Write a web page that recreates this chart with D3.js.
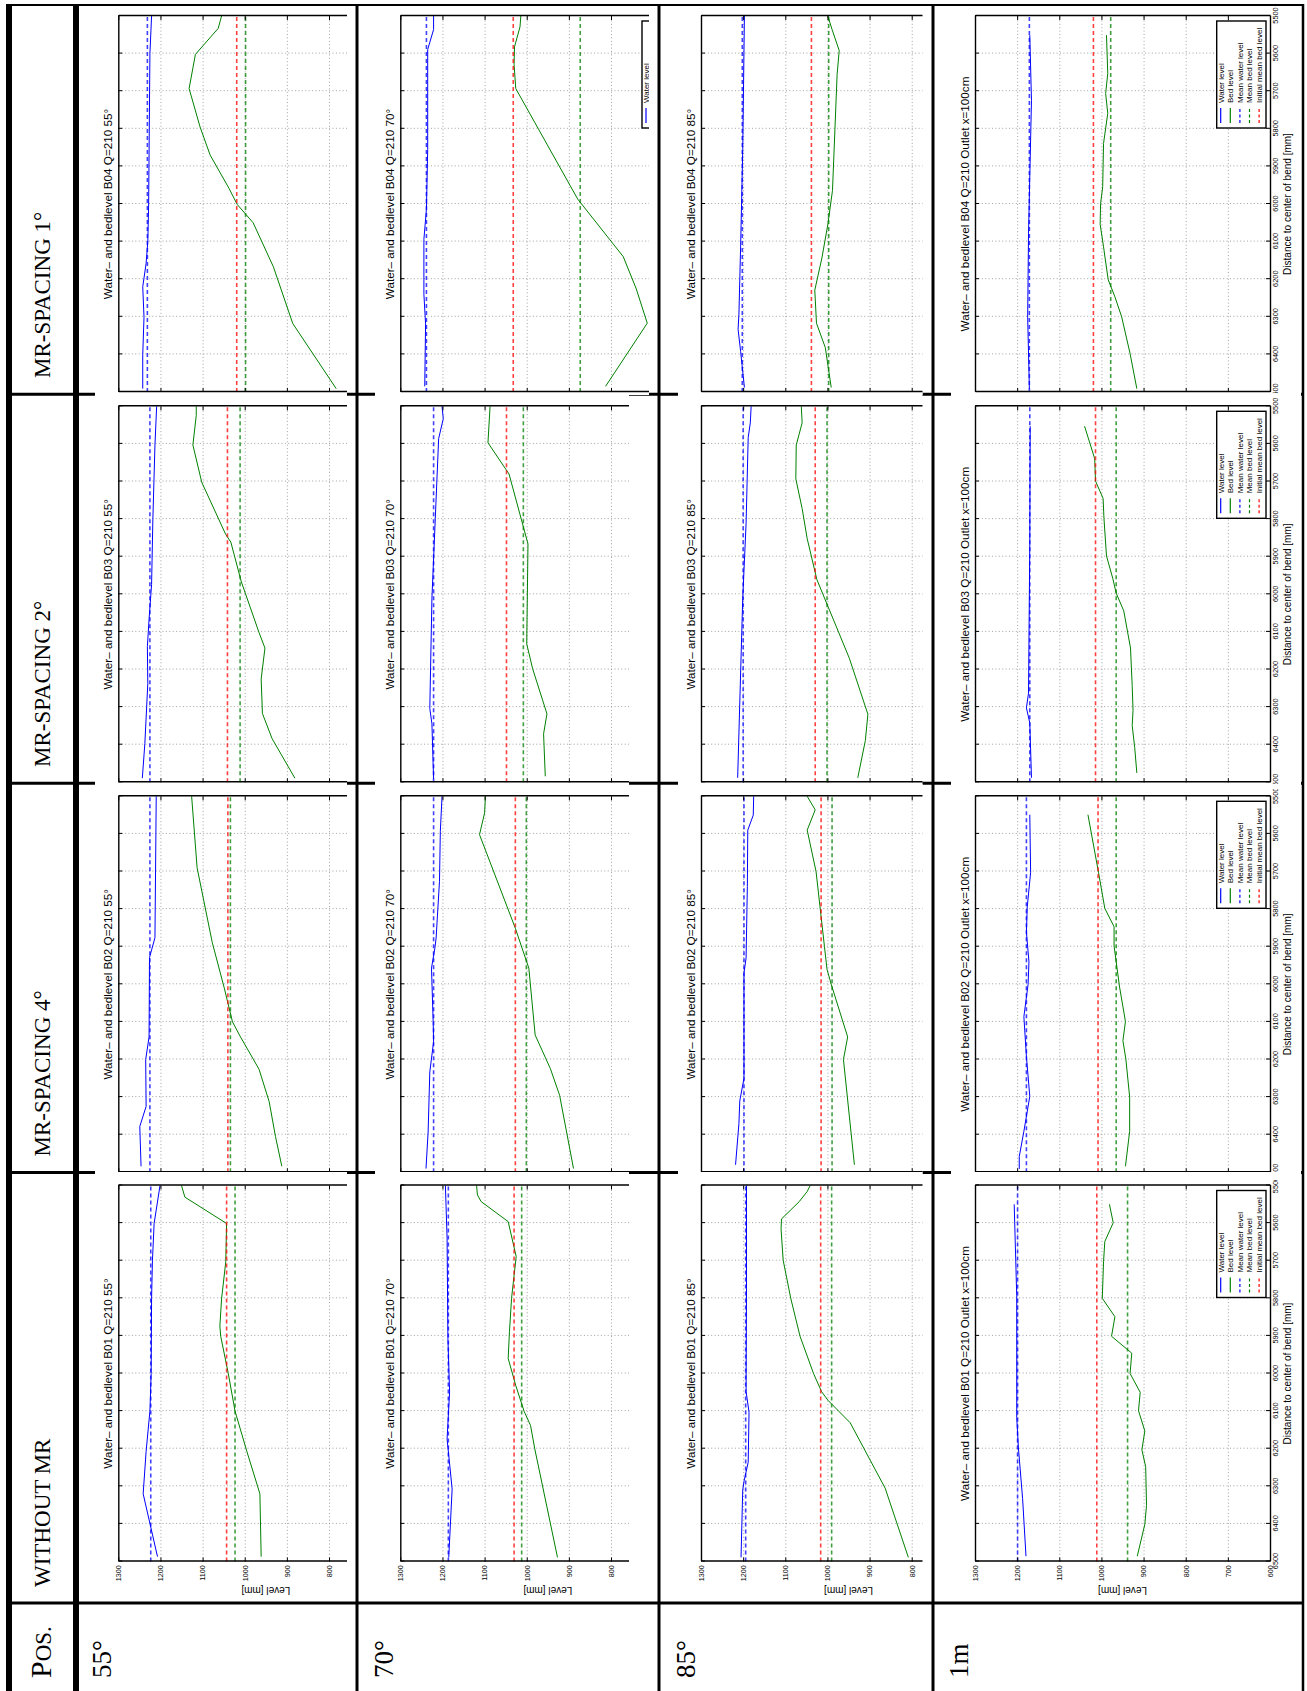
<!DOCTYPE html>
<html>
<head>
<meta charset="utf-8">
<script src="https://cdn.jsdelivr.net/npm/d3@7"></script>
<style>
  html, body { margin: 0; padding: 0; background: #fff; }
  svg { display: block; }
</style>
</head>
<body>
<script>
// ---------------- table labels ----------------
const setupLabels = ["WITHOUT MR", "MR-SPACING 4°", "MR-SPACING 2°", "MR-SPACING 1°"];
const setupCodes = ["B01", "B02", "B03", "B04"];
const positionLabels = ["55°", "70°", "85°", "1m"];
const positionTitles = ["55°", "70°", "85°", "Outlet x=100cm"];
const levelTicks = [1300, 1200, 1100, 1000, 900, 800, 700, 600];
const distanceTicks = [5500, 5600, 5700, 5800, 5900, 6000, 6100, 6200, 6300, 6400, 6500];
const legendLabels = ["Water level", "Bed level", "Mean water level", "Mean bed level", "Initial mean bed level"];

// ---------------- profiles: [distance to bend centre (mm), level (mm)] ----------------
// means: [mean water level, mean bed level, initial mean bed level]

// B01 - without MR
const waterB01_55 = [[5500,1201],[5601,1215],[5700,1219],[5800,1221],[6000,1222],[6100,1225],[6207,1234],[6320,1241],[6487,1207]];
const bedB01_55 = [[5500,1150],[5531,1142],[5601,1043],[5703,1045],[5802,1055],[5874,1059],[5901,1057],[6000,1039],[6100,1023],[6207,995],[6320,964],[6487,961]];
const meanB01_55 = [1223, 1023, 1043];
const waterB01_70 = [[5500,1193],[5640,1189],[5907,1187],[6049,1183],[6174,1189],[6307,1177],[6489,1185]];
const bedB01_70 = [[5500,1119],[5525,1117],[5543,1108],[5596,1044],[5689,1025],[5800,1036],[5889,1041],[5960,1044],[6032,1026],[6101,1006],[6138,991],[6200,981],[6489,927]];
const meanB01_70 = [1186, 1012, 1030];
const waterB01_85 = [[5500,1192],[5773,1192],[6048,1193],[6103,1186],[6236,1188],[6287,1198],[6310,1201],[6489,1205]];
const bedB01_85 = [[5500,1041],[5516,1048],[5543,1067],[5589,1109],[5616,1110],[5699,1105],[5800,1087],[5901,1065],[6000,1033],[6048,1014],[6071,999],[6131,946],[6305,863],[6489,808]];
const meanB01_85 = [1194, 990, 1016];
const waterB01_1m = [[5550,1207],[5793,1201],[6117,1201],[6198,1197],[6333,1187],[6486,1179]];
const bedB01_1m = [[5550,981],[5599,972],[5649,992],[5703,995],[5800,998],[5849,968],[5901,976],[5946,928],[6000,932],[6050,908],[6099,912],[6153,897],[6203,904],[6248,895],[6351,893],[6401,897],[6486,915]];
const meanB01_1m = [1199, 938, 1011];

// B02 - MR spacing 4°
const waterB02_55 = [[5500,1210],[5876,1213],[5929,1226],[6140,1227],[6200,1235],[6325,1234],[6378,1249],[6484,1246]];
const bedB02_55 = [[5500,1126],[5690,1113],[5889,1077],[6008,1049],[6100,1029],[6140,1010],[6226,966],[6312,942],[6405,927],[6484,912]];
const meanB02_55 = [1225, 1034, 1040];
const waterB02_70 = [[5500,1201],[5593,1205],[5726,1207],[5877,1215],[5904,1218],[5957,1226],[6099,1222],[6153,1221],[6233,1230],[6393,1234],[6490,1239]];
const bedB02_70 = [[5500,1098],[5544,1100],[5602,1112],[5851,1027],[5957,995],[6135,980],[6224,944],[6295,922],[6490,889]];
const meanB02_70 = [1221, 1001, 1027];
const waterB02_85 = [[5500,1175],[5550,1176],[5590,1189],[5740,1190],[5930,1193],[5970,1198],[6250,1198],[6310,1208],[6370,1210],[6480,1218]];
const bedB02_85 = [[5500,1048],[5536,1029],[5590,1048],[5700,1027],[5820,1015],[5900,1007],[5960,1001],[6000,991],[6140,952],[6200,962],[6480,936]];
const meanB02_85 = [1198, 989, 1015];
const waterB02_1m = [[5549,1170],[5702,1168],[5794,1176],[5861,1178],[5940,1172],[6000,1174],[6086,1184],[6192,1178],[6298,1170],[6391,1184],[6458,1195],[6491,1195]];
const bedB02_1m = [[5549,1032],[5702,1007],[5798,992],[5847,970],[5898,970],[6007,957],[6099,943],[6150,949],[6199,942],[6300,933],[6391,933],[6484,943]];
const meanB02_1m = [1178, 965, 1008];

// B03 - MR spacing 2°
const waterB03_55 = [[5500,1209],[5603,1213],[5802,1218],[5974,1221],[6066,1227],[6139,1231],[6238,1230],[6397,1237],[6489,1243]];
const bedB03_55 = [[5500,1115],[5524,1115],[5603,1123],[5702,1102],[5841,1045],[5861,1033],[5967,1008],[6102,966],[6143,952],[6225,961],[6317,958],[6384,935],[6489,881]];
const meanB03_55 = [1225, 1011, 1041];
const waterB03_70 = [[5500,1201],[5533,1198],[5586,1209],[5799,1217],[6012,1225],[6304,1230],[6344,1225],[6491,1221]];
const bedB03_70 = [[5500,1087],[5597,1092],[5680,1042],[5866,997],[6132,1000],[6198,986],[6318,952],[6371,960],[6484,956]];
const meanB03_70 = [1221, 1008, 1048];
const waterB03_85 = [[5500,1181],[5544,1183],[5583,1188],[5812,1193],[6011,1201],[6488,1213]];
const bedB03_85 = [[5500,1062],[5544,1060],[5603,1074],[5693,1075],[5772,1060],[5852,1048],[5961,1025],[6170,948],[6319,904],[6389,910],[6488,928]];
const meanB03_85 = [1200, 1001, 1029];
const waterB03_1m = [[5553,1169],[5865,1170],[6263,1173],[6302,1178],[6342,1170],[6488,1166]];
const bedB03_1m = [[5553,1040],[5639,1016],[5699,1014],[5745,996],[5798,994],[5898,988],[5958,973],[5997,965],[6044,947],[6143,931],[6243,927],[6309,925],[6349,927],[6408,921],[6475,916]];
const meanB03_1m = [1170, 965, 1014];

// B04 - MR spacing 1°
const waterB04_55 = [[5500,1221],[5600,1225],[6000,1228],[6100,1230],[6158,1234],[6220,1242],[6301,1239],[6401,1242],[6491,1242]];
const bedB04_55 = [[5500,1055],[5533,1063],[5602,1117],[5693,1132],[5795,1106],[5870,1082],[5959,1037],[6001,1018],[6050,980],[6167,932],[6318,886],[6491,783]];
const meanB04_55 = [1231, 998, 1019];
const waterB04_70 = [[5500,1221],[5536,1221],[5589,1235],[5855,1235],[6014,1238],[6094,1244],[6240,1244],[6319,1240],[6485,1242]];
const bedB04_70 = [[5500,1014],[5529,1016],[5582,1029],[5629,1030],[5693,1026],[5987,879],[6140,771],[6226,740],[6317,714],[6485,813]];
const meanB04_70 = [1238, 873, 1032];
const waterB04_85 = [[5500,1197],[5855,1201],[6114,1206],[6293,1210],[6333,1212],[6392,1206],[6488,1197]];
const bedB04_85 = [[5500,999],[5536,989],[5592,972],[5655,977],[5964,988],[6054,999],[6143,1013],[6229,1030],[6317,1026],[6382,1005],[6488,991]];
const meanB04_85 = [1202, 997, 1038];
const waterB04_1m = [[5551,1170],[5724,1166],[6079,1173],[6301,1175],[6491,1171]];
const bedB04_1m = [[5551,988],[5653,985],[5706,990],[5759,985],[5839,995],[5954,997],[5999,1002],[6054,1003],[6114,995],[6201,984],[6247,968],[6300,952],[6398,932],[6491,916]];
const meanB04_1m = [1171, 978, 1019];

// lookup [setup][position] -> series
const waterTable = [
  [waterB01_55, waterB01_70, waterB01_85, waterB01_1m],
  [waterB02_55, waterB02_70, waterB02_85, waterB02_1m],
  [waterB03_55, waterB03_70, waterB03_85, waterB03_1m],
  [waterB04_55, waterB04_70, waterB04_85, waterB04_1m]
];
const bedTable = [
  [bedB01_55, bedB01_70, bedB01_85, bedB01_1m],
  [bedB02_55, bedB02_70, bedB02_85, bedB02_1m],
  [bedB03_55, bedB03_70, bedB03_85, bedB03_1m],
  [bedB04_55, bedB04_70, bedB04_85, bedB04_1m]
];
const meanTable = [
  [meanB01_55, meanB01_70, meanB01_85, meanB01_1m],
  [meanB02_55, meanB02_70, meanB02_85, meanB02_1m],
  [meanB03_55, meanB03_70, meanB03_85, meanB03_1m],
  [meanB04_55, meanB04_70, meanB04_85, meanB04_1m]
];

// ---------------- page layout ----------------
// The table is laid out in a landscape frame (u along the long side,
// v along the short side) and turned a quarter turn onto the portrait page.
const W = 1307, H = 1691;
const PW = 376;   // plot extent along the distance axis
const PH = 295;   // plot extent along the level axis (1300 .. 600 mm)

const setupPlotU = [129.5, 518.7, 908.7, 1299];                 // left edge of each plot (6500 mm)
const setupCover = [[93, 519], [516.5, 907], [906, 1298], [1296, 1684]];
const setupClip  = [[93, 511], [518.5, 902], [907, 1294], [1298, 1684]];
const positionPlotV = [118.3, 400.3, 701, 975];                 // level 1300 edge of each plot
const positionClip = [[97, 347], [377, 629], [680, 922.5], [953, 1301]];

const serif = "'Liberation Serif', 'Times New Roman', serif";
const sans = "'Liberation Sans', Arial, Helvetica, sans-serif";
const plain = d3.format("d");

const svg = d3.select("body").append("svg")
  .attr("width", W).attr("height", H)
  .attr("viewBox", `0 0 ${W} ${H}`);
svg.append("rect").attr("width", W).attr("height", H).attr("fill", "#fff");
const defs = svg.append("defs");
const page = svg.append("g").attr("transform", `translate(0,${H}) rotate(-90)`);

// ---------------- table rules ----------------
const rules = page.append("g").attr("stroke", "#000").attr("fill", "none");
[[9, 6], [76, 6], [357, 3], [659, 3], [933, 3], [1303, 2.5]].forEach(([v, w]) => {
  rules.append("line").attr("x1", 0).attr("x2", 1687).attr("y1", v).attr("y2", v).attr("stroke-width", w);
});
rules.append("line").attr("x1", 1686).attr("x2", 1686).attr("y1", 6).attr("y2", 1304).attr("stroke-width", 2);
[1296.7, 907.8, 518.5, 88].forEach(u => {
  rules.append("line").attr("x1", u).attr("x2", u).attr("y1", 9).attr("y2", 1303).attr("stroke-width", 3);
});

// ---------------- table headings ----------------
const heads = page.append("g").attr("font-family", serif).attr("fill", "#000");
const posHead = heads.append("text").attr("x", 13).attr("y", 51);
posHead.append("tspan").attr("font-size", 30).text("P");
posHead.append("tspan").attr("font-size", 23).text("OS.");
const setupHeadU = [104, 534.5, 924, 1313];
setupLabels.forEach((lab, i) => {
  heads.append("text").attr("x", setupHeadU[i]).attr("y", 50).attr("font-size", 23).text(lab);
});
const rowLabelV = [111, 393, 695, 968];
positionLabels.forEach((lab, i) => {
  heads.append("text").attr("x", 13).attr("y", rowLabelV[i]).attr("font-size", 27).text(lab);
});

// ---------------- charts ----------------
const colors = { water: "#0000ff", bed: "#008000", init: "#ff0000" };
const meanColors = [colors.water, colors.bed, colors.init];

function styleAxis(sel) {
  sel.attr("font-family", sans).attr("font-size", null);
  sel.select(".domain").attr("stroke", "#000").attr("stroke-width", 1.4);
  sel.selectAll(".tick line").attr("stroke", "#000").attr("stroke-width", 1);
  sel.selectAll(".tick text").attr("fill", "#000");
}

function drawChart(s, p) {
  const u0 = setupPlotU[s], v0 = positionPlotV[p];
  const cover = setupCover[s], clipU = setupClip[s];
  let [cv0, cv1] = positionClip[p];
  if (s === 3 && p === 1) cv1 = 649;

  const x = d3.scaleLinear().domain([6500, 5500]).range([0, PW]);
  const y = d3.scaleLinear().domain([1300, 600]).range([0, PH]);

  // white sheet under the figure
  page.append("rect").attr("x", cover[0]).attr("y", cv0 - 2)
    .attr("width", cover[1] - cover[0]).attr("height", cv1 - cv0 + 2).attr("fill", "#fff");

  const id = `fig-${s}-${p}`;
  defs.append("clipPath").attr("id", id).append("rect")
    .attr("x", clipU[0]).attr("y", cv0).attr("width", clipU[1] - clipU[0]).attr("height", cv1 - cv0);
  const outer = page.append("g").attr("clip-path", `url(#${id})`);
  const g = outer.append("g").attr("transform", `translate(${u0},${v0})`);

  // dotted grid
  g.append("g")
    .call(d3.axisLeft(y).tickValues(levelTicks.slice(1, -1)).tickSize(-PW).tickFormat(""))
    .call(a => a.select(".domain").remove())
    .selectAll("line").attr("stroke", "#8a8a8a").attr("stroke-width", 0.8).attr("stroke-dasharray", "1,2.4");
  g.append("g")
    .call(d3.axisTop(x).tickValues(distanceTicks.slice(1, -1)).tickSize(-PH).tickFormat(""))
    .call(a => a.select(".domain").remove())
    .selectAll("line").attr("stroke", "#8a8a8a").attr("stroke-width", 0.8).attr("stroke-dasharray", "1,2.4");

  const line = d3.line().x(d => x(d[0])).y(d => y(d[1]));

  g.append("path").datum(waterTable[s][p]).attr("d", line)
    .attr("fill", "none").attr("stroke", colors.water).attr("stroke-width", 1);
  g.append("path").datum(bedTable[s][p]).attr("d", line)
    .attr("fill", "none").attr("stroke", colors.bed).attr("stroke-width", 1);
  meanTable[s][p].forEach((m, k) => {
    g.append("path").datum([[6500, m], [5500, m]]).attr("d", line)
      .attr("fill", "none").attr("stroke", meanColors[k])
      .attr("stroke-width", 1.6).attr("stroke-opacity", 0.75).attr("stroke-dasharray", "4,3");
  });

  // axes box with inward ticks
  g.append("g")
    .call(d3.axisLeft(y).tickValues(levelTicks).tickFormat(plain).tickSizeInner(-4).tickSizeOuter(0).tickPadding(3.7))
    .call(styleAxis)
    .selectAll("text").attr("font-size", 7.2);
  g.append("g").attr("transform", `translate(${PW},0)`)
    .call(d3.axisRight(y).tickValues(levelTicks).tickSizeInner(-4).tickSizeOuter(0).tickFormat(""))
    .call(styleAxis);
  g.append("g")
    .call(d3.axisTop(x).tickValues(distanceTicks).tickSizeInner(-4).tickSizeOuter(0).tickFormat(""))
    .call(styleAxis);
  g.append("g").attr("transform", `translate(0,${PH})`)
    .call(d3.axisBottom(x).tickValues(distanceTicks).tickFormat(plain).tickSizeInner(-4).tickSizeOuter(0).tickPadding(3))
    .call(styleAxis)
    .selectAll("text").attr("font-size", 7.4);

  // title and axis labels
  g.append("text").attr("x", PW / 2).attr("y", -6.5).attr("text-anchor", "middle")
    .attr("font-family", sans).attr("font-size", 11.7).attr("fill", "#000")
    .text(`Water\u2013 and bedlevel ${setupCodes[s]} Q=210 ${positionTitles[p]}`);
  g.append("text").attr("transform", `translate(-25.5,${PH / 2}) rotate(-90)`)
    .attr("text-anchor", "middle").attr("font-family", sans).attr("font-size", 10).attr("fill", "#000")
    .text("Level [mm]");
  g.append("text").attr("x", PW / 2).attr("y", 316).attr("text-anchor", "middle")
    .attr("font-family", sans).attr("font-size", 10).attr("fill", "#000")
    .text("Distance to center of bend [mm]");

  // legend
  const lg = g.append("g").attr("transform", "translate(264,241.7)");
  lg.append("rect").attr("width", 107).attr("height", 49.3)
    .attr("fill", "#fff").attr("stroke", "#000").attr("stroke-width", 1.4);
  const legendStyles = [
    { color: colors.water, dash: null },
    { color: colors.bed, dash: null },
    { color: colors.water, dash: "3,2.5" },
    { color: colors.bed, dash: "3,2.5" },
    { color: colors.init, dash: "3,2.5" }
  ];
  legendLabels.forEach((lab, k) => {
    const cy = 4 + k * 9.6;
    lg.append("line").attr("x1", 5).attr("x2", 20).attr("y1", cy).attr("y2", cy)
      .attr("stroke", legendStyles[k].color).attr("stroke-width", 1.2)
      .attr("stroke-dasharray", legendStyles[k].dash);
    lg.append("text").attr("x", 25).attr("y", cy).attr("dy", "0.35em")
      .attr("font-family", sans).attr("font-size", 8).attr("fill", "#000").text(lab);
  });
}

// MR 1° first so later sheets lie over its lower edge
[3, 2, 1, 0].forEach(s => {
  [0, 1, 2, 3].forEach(p => drawChart(s, p));
});
</script>
</body>
</html>
